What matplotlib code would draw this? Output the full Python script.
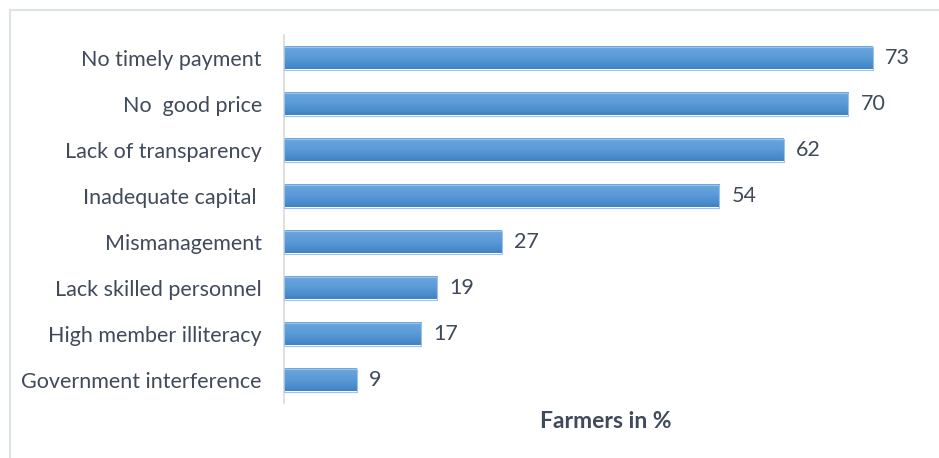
import matplotlib.pyplot as plt
import numpy as np
from matplotlib.lines import Line2D
from matplotlib.colors import LinearSegmentedColormap

categories = ['No timely payment', 'No  good price', 'Lack of transparency',
              'Inadequate capital ', 'Mismanagement', 'Lack skilled personnel',
              'High member illiteracy', 'Government interference']
farmers_pct = [73, 70, 62, 54, 27, 19, 17, 9]

plt.rcParams['font.family'] = ['Lato', 'DejaVu Sans']
txt = '#404A5A'

fig = plt.figure(figsize=(9.39, 4.58), dpi=100)
# axes placed in pixels: x 284..929, y 35..403 (from top)
ax = fig.add_axes([284/939, 1 - 403/458, 645/939, 368/458])

n = len(categories)
ypos = np.arange(n)
h = 0.5

# vertical gradient, lighter at top
grad = np.linspace(0, 1, 256).reshape(-1, 1)
cmap = LinearSegmentedColormap.from_list('bar', ['#3F83C4', '#5A9AD7', '#6BA7DF'])

for y, v in zip(ypos, farmers_pct):
    ax.imshow(grad, cmap=cmap, extent=[0, v, y + h/2, y - h/2], aspect='auto',
              origin='lower', interpolation='bilinear', zorder=2)
    ax.add_patch(plt.Rectangle((0, y - h/2), v, h, fill=False,
                               edgecolor='#9CC2E8', lw=0.8, zorder=3))
    ax.text(v + 1.5, y, str(v), va='center', ha='left', fontsize=15.5, color=txt)

ax.set_xlim(0, 80)
ax.set_ylim(n - 0.5, -0.5)
ax.set_yticks(ypos)
ax.set_yticklabels(categories, fontsize=15.5, color=txt)
ax.tick_params(axis='y', length=0, pad=16)
ax.set_xticks([])
for s in ['top', 'right', 'bottom']:
    ax.spines[s].set_visible(False)
ax.spines['left'].set_color('#D9D9D9')
ax.spines['left'].set_linewidth(1.2)

fig.text(606/939, 1 - 422/458, 'Farmers in %', ha='center', va='center',
         fontsize=16.5, fontweight='bold', color=txt)

# chart border (only top and left are visible)
fig.add_artist(Line2D([10/939, 1], [1 - 10/458, 1 - 10/458], color='#DDE3EA', lw=1.5))
fig.add_artist(Line2D([10/939, 10/939], [0, 1 - 10/458], color='#DDE3EA', lw=1.5))

fig.savefig('out.png', dpi=100)
